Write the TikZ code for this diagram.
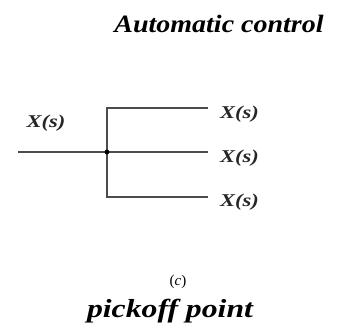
\documentclass[tikz,border=0pt]{standalone}
\usepackage{fontspec}
\setmainfont{Liberation Serif}
\usetikzlibrary{positioning}
\newcommand{\wide}[2]{\scalebox{#1}[1]{#2}}
\begin{document}
\begin{tikzpicture}[x=1pt,y=-1pt,
ln/.style={line width=1.3pt,black!70},
sig/.style={font=\fontsize{18}{18}\selectfont\itshape\bfseries,inner sep=0pt,text=black!85},
ttl/.style={font=\fontsize{25}{25}\selectfont\itshape\bfseries,inner sep=0pt}]
\useasboundingbox (0,0) rectangle (337,329);
\node[ttl] (title) at (219,24) {\wide{1.12}{Automatic control}};
\coordinate (in) at (18,152);
\coordinate (j) at (107,152);
\coordinate (t) at (208,108);
\coordinate (m) at (208,152);
\coordinate (b) at (208,197);
\draw[ln] (in) -- (m);
\draw[ln] (t) -| (j) |- (b);
\fill (j) circle (2.4pt);
\node[sig,right=12pt of t,yshift=-6pt] (xt) {\wide{1.25}{X(s)}};
\node[sig,right=12pt of m,yshift=-6pt] (xm) {\wide{1.25}{X(s)}};
\node[sig,right=12pt of b,yshift=-5pt] (xb) {\wide{1.25}{X(s)}};
\node[sig] (xin) at (46,123) {\wide{1.25}{X(s)}};
\node[font=\fontsize{15}{15}\selectfont,inner sep=0pt] (c) at (178,282) {(\textit{c})};
\node[ttl,font=\fontsize{26}{26}\selectfont\itshape\bfseries] (cap) at (170,311) {\wide{1.22}{pickoff point}};
\end{tikzpicture}
\end{document}
